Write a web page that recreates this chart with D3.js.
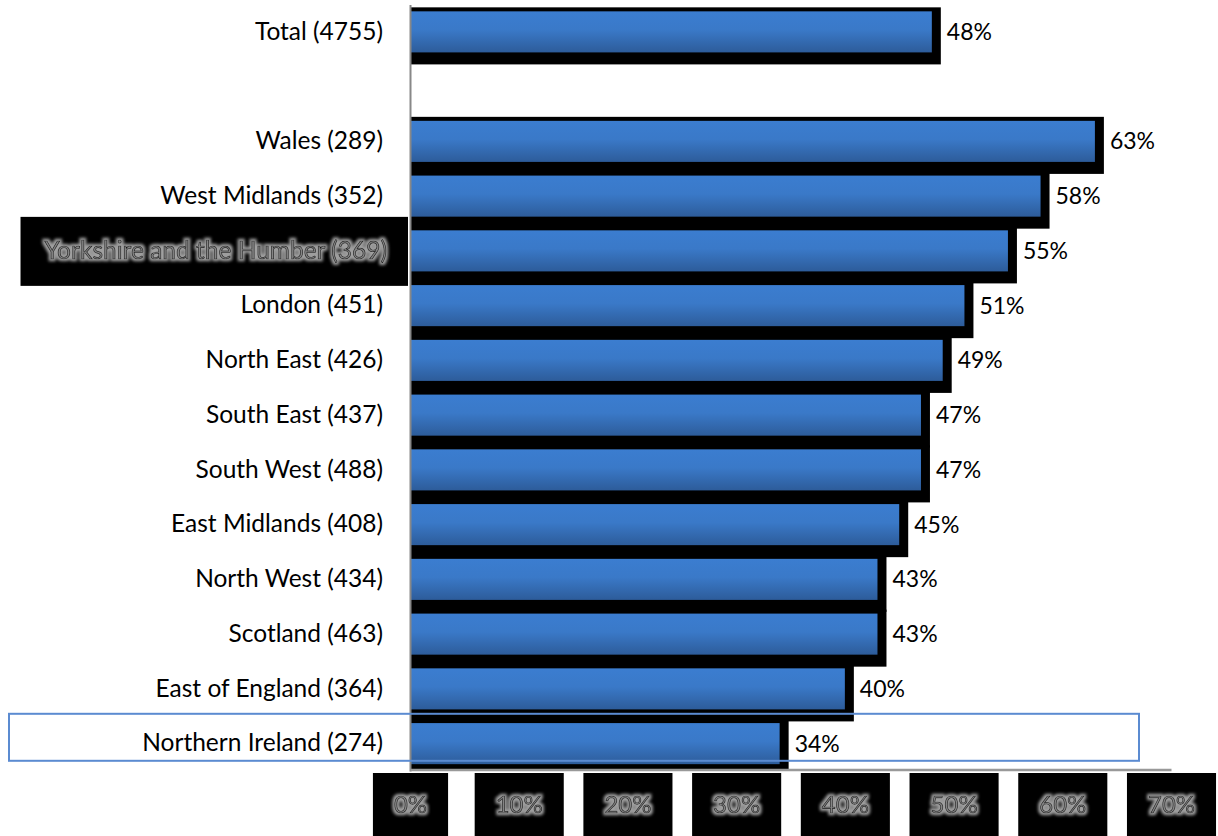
<!DOCTYPE html>
<html>
<head>
<meta charset="utf-8">
<script src="https://cdn.jsdelivr.net/npm/d3@7"></script>
<style>
  body { margin: 0; background: #fff; }
  svg { display: block; font-family: Lato, "Noto Sans", sans-serif; }
</style>
</head>
<body>
<svg id="chart" width="1218" height="836"></svg>
<script>
// regions, with an empty slot between the total and the rest
var categories = ["Total (4755)", "gap", "Wales (289)", "West Midlands (352)",
  "Yorkshire and the Humber (369)", "London (451)", "North East (426)",
  "South East (437)", "South West (488)", "East Midlands (408)",
  "North West (434)", "Scotland (463)", "East of England (364)",
  "Northern Ireland (274)"];
var values = [0.48, null, 0.63, 0.58, 0.55, 0.51, 0.49, 0.47, 0.47, 0.45, 0.43, 0.43, 0.40, 0.34];
var valueLabels = ["48%", "", "63%", "58%", "55%", "51%", "49%", "47%", "47%", "45%", "43%", "43%", "40%", "34%"];
var xTicks = [0, 0.1, 0.2, 0.3, 0.4, 0.5, 0.6, 0.7];
var glowLabel = "Yorkshire and the Humber (369)";
var boxedLabel = "Northern Ireland (274)";

var svg = d3.select("#chart");
// note: "top" is taken by window.top, so these get a plot prefix
var plotLeft = 410, plotRight = 1171, plotTop = 4.5, plotBottom = 770;

var x = d3.scaleLinear().domain([0, 0.7]).range([plotLeft, plotRight]);
var y = d3.scaleBand().domain(categories).range([plotTop, plotBottom + 1])
  .paddingInner(0.25).paddingOuter(0.125);

var rows = categories.map(function(c, i) {
  return {name: c, value: values[i], label: valueLabels[i]};
}).filter(function(d) { return d.value != null; });

var defs = svg.append("defs");
var grad = defs.append("linearGradient").attr("id", "barGrad")
  .attr("x1", 0).attr("y1", 0).attr("x2", 0).attr("y2", 1);
grad.append("stop").attr("offset", "0%").attr("stop-color", "#3b7dd0");
grad.append("stop").attr("offset", "45%").attr("stop-color", "#3a79c8");
grad.append("stop").attr("offset", "100%").attr("stop-color", "#2d5c9a");

// grey glow round the text, like the office "glow" effect
var glow = defs.append("filter").attr("id", "glow")
  .attr("x", "-10%").attr("y", "-40%").attr("width", "120%").attr("height", "180%");
glow.append("feMorphology").attr("in", "SourceAlpha").attr("operator", "dilate")
  .attr("radius", 1.8).attr("result", "fat");
glow.append("feGaussianBlur").attr("in", "fat").attr("stdDeviation", 1.4).attr("result", "soft");
glow.append("feFlood").attr("flood-color", "#a0a0a0").attr("result", "col");
glow.append("feComposite").attr("in", "col").attr("in2", "soft").attr("operator", "in").attr("result", "halo");
var merge = glow.append("feMerge");
merge.append("feMergeNode").attr("in", "halo");
merge.append("feMergeNode").attr("in", "SourceGraphic");

defs.append("clipPath").attr("id", "plotClip").append("rect")
  .attr("x", 0).attr("y", 0).attr("width", 1218).attr("height", plotBottom);

var plot = svg.append("g").attr("clip-path", "url(#plotClip)");

// black shadow behind every bar
plot.selectAll("rect.shadow").data(rows).enter().append("rect")
  .attr("class", "shadow")
  .attr("x", x(0))
  .attr("y", function(d) { return y(d.name) - 4; })
  .attr("width", function(d) { return x(d.value) - x(0) + 9; })
  .attr("height", y.bandwidth() + 16)
  .attr("fill", "#000");

plot.selectAll("rect.bar").data(rows).enter().append("rect")
  .attr("class", "bar")
  .attr("x", x(0))
  .attr("y", function(d) { return y(d.name); })
  .attr("width", function(d) { return x(d.value) - x(0); })
  .attr("height", y.bandwidth())
  .attr("fill", "url(#barGrad)");

svg.selectAll("text.val").data(rows).enter().append("text")
  .attr("class", "val")
  .attr("x", function(d) { return x(d.value) + 15; })
  .attr("y", function(d) { return y(d.name) + y.bandwidth() / 2; })
  .attr("dy", "0.35em")
  .attr("font-size", 23)
  .attr("fill", "#000")
  .text(function(d) { return d.label; });

// category axis
var yAxis = svg.append("g").attr("transform", "translate(" + plotLeft + ",0)")
  .call(d3.axisLeft(y).tickSize(0).tickSizeOuter(0).tickPadding(27)
    .tickFormat(function(d) { return d === "gap" ? "" : d; }));
yAxis.select(".domain").attr("stroke", "#888").attr("stroke-width", 2);
yAxis.selectAll(".tick text").attr("font-size", 24.5).attr("fill", "#000")
  .attr("font-family", "Lato, 'Noto Sans', sans-serif");

yAxis.selectAll(".tick").filter(function(d) { return d === glowLabel; })
  .each(function() {
    var t = d3.select(this).select("text");
    t.attr("x", -23);
    var bb = t.node().getBBox();
    d3.select(this).insert("rect", "text")
      .attr("x", bb.x - 24).attr("y", -34)
      .attr("width", -2 - (bb.x - 24)).attr("height", 69)
      .attr("fill", "#000");
    t.attr("fill", "#858585").attr("stroke", "#111").attr("stroke-width", 0.7)
      .attr("filter", "url(#glow)");
  });

// value axis
var xAxis = svg.append("g").attr("transform", "translate(0," + (plotBottom - 0.5) + ")")
  .call(d3.axisBottom(x).tickValues(xTicks).tickSize(0).tickSizeOuter(0)
    .tickPadding(0).tickFormat(d3.format(".0%")));
xAxis.select(".domain").attr("stroke", "#999").attr("stroke-width", 2.5);
xAxis.selectAll(".tick text")
  .attr("font-size", 24)
  .attr("font-family", "Lato, 'Noto Sans', sans-serif")
  .attr("y", 35).attr("dy", "0.35em")
  .attr("fill", "#858585").attr("stroke", "#111").attr("stroke-width", 0.7)
  .attr("filter", "url(#glow)");
xAxis.selectAll(".tick").each(function() {
  var t = d3.select(this).select("text");
  var bb = t.node().getBBox();
  d3.select(this).insert("rect", "text")
    .attr("x", bb.x - 21).attr("y", 3.5)
    .attr("width", bb.width + 42).attr("height", 64)
    .attr("fill", "#000");
});

// outline picking out one region
var nTop = y(boxedLabel);
svg.append("rect")
  .attr("x", 9).attr("y", nTop - 9.3)
  .attr("width", 1130).attr("height", 47)
  .attr("fill", "none").attr("stroke", "#5b8bd1").attr("stroke-width", 2);
</script>
</body>
</html>
